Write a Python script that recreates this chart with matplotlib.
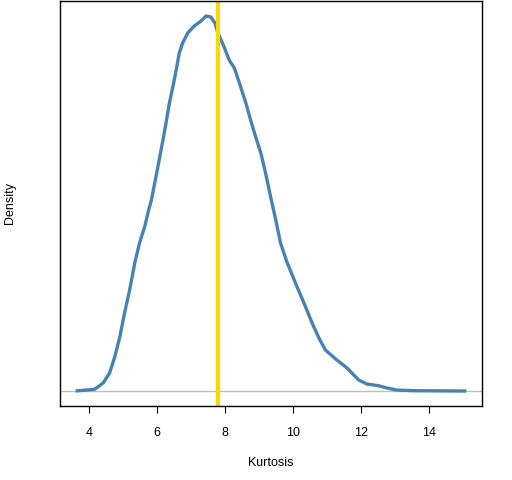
import matplotlib
matplotlib.use("Agg")
import matplotlib.pyplot as plt

plt.rcParams['font.family'] = ['Liberation Sans', 'DejaVu Sans']

# Density curve of kurtosis (heights in relative units)
kurtosis_x = [3.60, 4.16, 4.41, 4.60, 4.75, 4.90, 5.04, 5.19, 5.34, 5.48, 5.63, 5.75, 5.83,
              6.02, 6.17, 6.26, 6.36, 6.46, 6.56, 6.65, 6.75, 6.90, 7.09, 7.29, 7.44, 7.58,
              7.70, 7.78, 7.88, 7.97, 8.12, 8.27, 8.44, 8.61, 8.75, 8.90, 9.05, 9.19, 9.34,
              9.49, 9.63, 9.83, 10.07, 10.32, 10.56, 10.76, 10.95, 11.29, 11.59, 11.93,
              12.17, 12.51, 12.76, 13.05, 13.53, 15.10]
density_rel = [0, 1.7, 8, 18, 34, 54, 78, 101, 128, 148, 164, 181, 191,
               224, 251, 268, 288, 304, 321, 338, 348, 358, 365, 370, 375, 374,
               368, 359, 351, 344, 331, 323, 306, 288, 271, 254, 238, 218, 194,
               171, 148, 128, 108, 88, 68, 53, 41, 31, 23, 11,
               7, 5.3, 3, 1, 0.3, 0]
density = [v / 375 * 0.26 for v in density_rel]
observed_kurtosis = 7.8
x_ticks = [4, 6, 8, 10, 12, 14]

fig = plt.figure(figsize=(5.12, 4.8), dpi=100)
ax = fig.add_axes([60/512, 74/480, 422/512, 405/480])

ax.axhline(0, color="#BEBEBE", lw=1)
ax.plot(kurtosis_x, density, color="#4682B4", lw=2.4, solid_capstyle="butt",
        solid_joinstyle="round")
ax.axvline(observed_kurtosis, color="#FFD700", lw=3)

xmin, xmax = min(kurtosis_x), max(kurtosis_x)
pad = 0.04 * (xmax - xmin)
ax.set_xlim(xmin - pad, xmax + pad)
ymax = max(density)
ax.set_ylim(-0.04 * ymax, 1.04 * ymax)

ax.set_xticks(x_ticks)
ax.set_xticklabels([str(t) for t in x_ticks], fontsize=9)
ax.set_yticks([])
ax.tick_params(axis="x", length=5, pad=10)
for s in ax.spines.values():
    s.set_linewidth(1)
ax.set_xlabel("Kurtosis", fontsize=9, labelpad=13)
ax.set_ylabel("Density", fontsize=9, labelpad=32)

fig.savefig("out.png", dpi=100)
